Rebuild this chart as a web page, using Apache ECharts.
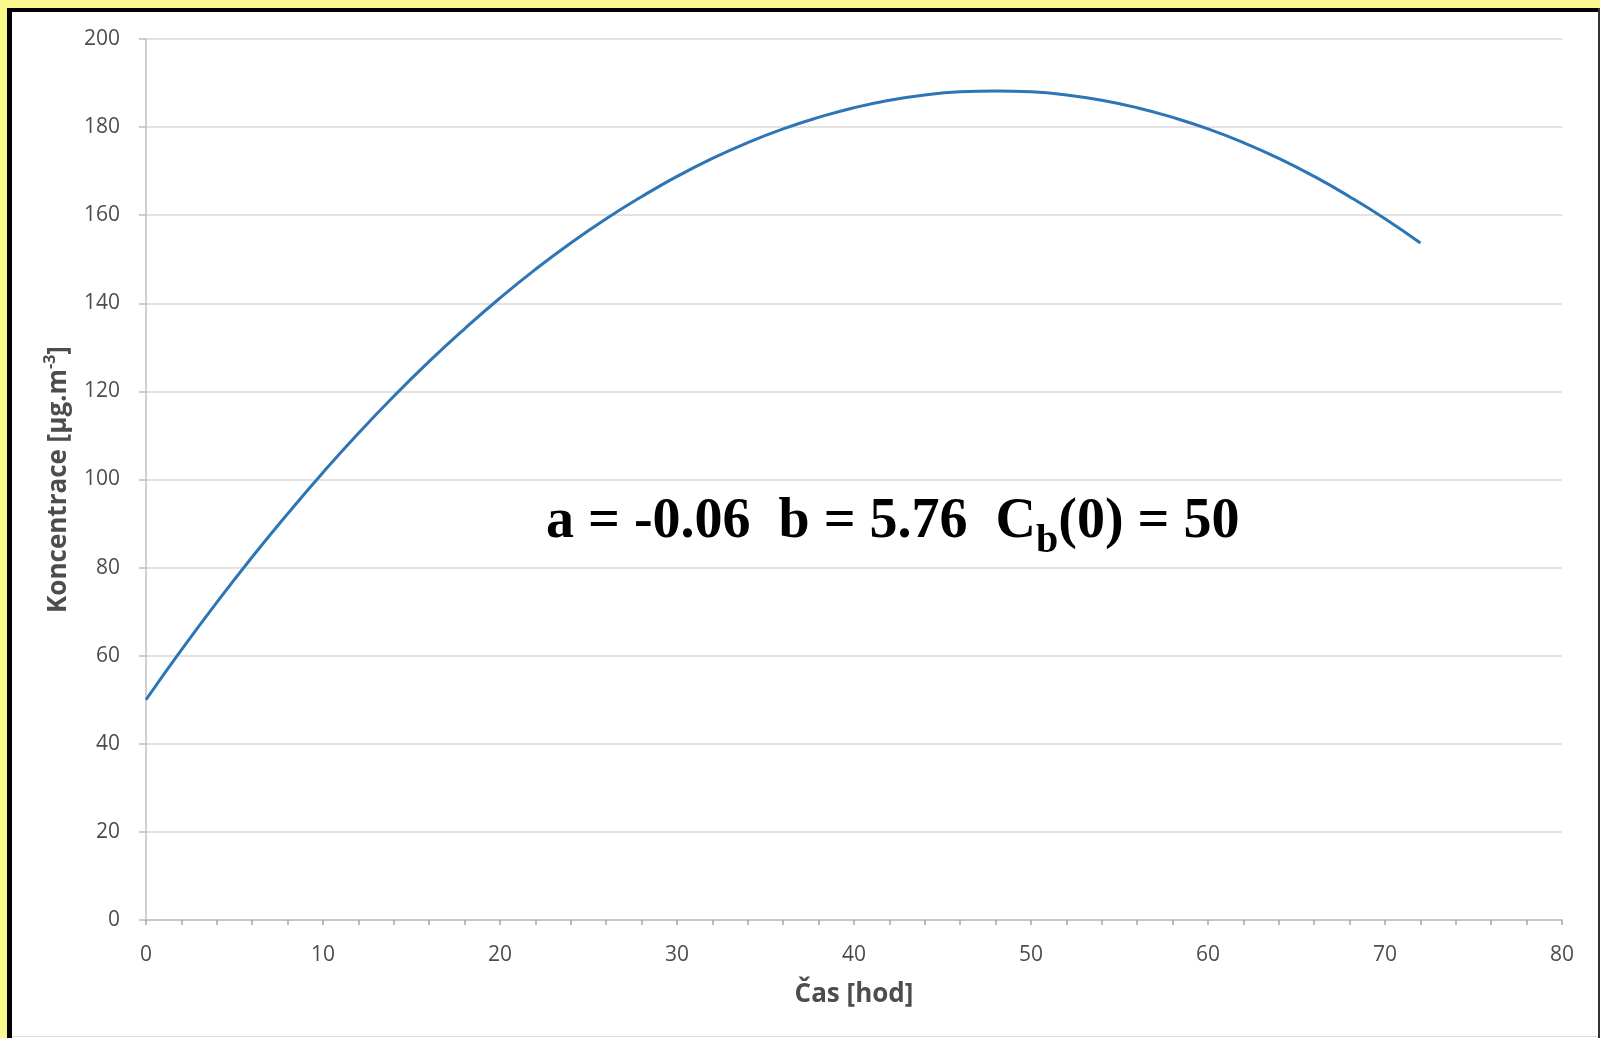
<!DOCTYPE html>
<html>
<head>
<meta charset="utf-8">
<title>Koncentrace v čase</title>
<script src="https://cdn.jsdelivr.net/npm/echarts@6/dist/echarts.min.js"></script>
<style>
  html, body { margin: 0; padding: 0; background: #ffffff; }
  #chart { width: 1600px; height: 1038px; }
</style>
</head>
<body>
<div id="chart"></div>
<script>
// Time axis samples [hod]
const hours = [0, 2, 4, 6, 8, 10, 12, 14, 16, 18, 20, 22, 24, 26, 28, 30, 32, 34, 36,
               38, 40, 42, 44, 46, 48, 50, 52, 54, 56, 58, 60, 62, 64, 66, 68, 70, 72];
// Concentration C_b(t) [µg.m-3]
const concentration = [50.0, 61.3, 72.1, 82.4, 92.2, 101.6, 110.5, 118.9, 126.8, 134.2,
                       141.2, 147.7, 153.7, 159.2, 164.2, 168.8, 172.9, 176.5, 179.6,
                       182.2, 184.4, 186.1, 187.3, 188.0, 188.2, 188.0, 187.3, 186.1,
                       184.4, 182.2, 179.6, 176.5, 172.9, 168.8, 164.2, 159.2, 153.7];
// Axis ticks
const xTicks = [0, 10, 20, 30, 40, 50, 60, 70, 80];
const yTicks = [0, 20, 40, 60, 80, 100, 120, 140, 160, 180, 200];

const xName = 'Čas [hod]';
const yName = '{n|Koncentrace [µg.m}{sup|-3}{n|]}';
const paramText = '{t|a = -0.06  b = 5.76  C}{s|b}{t|(0) = 50}';

const points = hours.map((h, i) => [h, concentration[i]]);

const axisFont = 'Open Sans';
const labelColor = '#4d4d4d';

const chart = echarts.init(document.getElementById('chart'), null, { renderer: 'canvas' });
chart.setOption({
  backgroundColor: '#ffffff',
  animation: false,
  grid: { left: 146, right: 38, top: 39, bottom: 118, containLabel: false },
  xAxis: {
    type: 'value',
    min: xTicks[0],
    max: xTicks[xTicks.length - 1],
    interval: xTicks[1] - xTicks[0],
    name: xName,
    nameLocation: 'middle',
    nameGap: 62,
    nameTextStyle: { fontFamily: axisFont, fontWeight: 'bold', fontSize: 26, color: labelColor },
    axisLine: { show: true, lineStyle: { color: '#BFBFBF', width: 1.5 } },
    axisTick: { show: true, inside: false, length: 5, lineStyle: { color: '#A6A6A6', width: 1.5 } },
    minorTick: { show: true, splitNumber: 5, length: 5, lineStyle: { color: '#A6A6A6', width: 1.5 } },
    axisLabel: { margin: 25, fontFamily: axisFont, fontSize: 21, color: labelColor },
    splitLine: { show: false }
  },
  yAxis: {
    type: 'value',
    min: yTicks[0],
    max: yTicks[yTicks.length - 1],
    interval: yTicks[1] - yTicks[0],
    name: yName,
    nameLocation: 'middle',
    nameGap: 70,
    nameRotate: 90,
    nameTextStyle: {
      rich: {
        n: { fontFamily: axisFont, fontWeight: 'bold', fontSize: 26, color: labelColor },
        sup: { fontFamily: axisFont, fontWeight: 'bold', fontSize: 16, color: labelColor,
               verticalAlign: 'top', lineHeight: 34 }
      }
    },
    axisLine: { show: true, lineStyle: { color: '#BFBFBF', width: 1.5 } },
    axisTick: { show: true, inside: false, length: 7, lineStyle: { color: '#BFBFBF', width: 1.5 } },
    axisLabel: { margin: 26, fontFamily: axisFont, fontSize: 21, color: labelColor },
    splitLine: { show: true, lineStyle: { color: '#D9D9D9', width: 1.5 } }
  },
  series: [{
    type: 'line',
    data: points,
    smooth: true,
    showSymbol: false,
    lineStyle: { color: '#2E75B6', width: 3 },
    itemStyle: { color: '#2E75B6' },
    z: 3
  }],
  graphic: [
    // yellow frame and black border around the chart area
    { type: 'rect', shape: { x: 0, y: 0, width: 1600, height: 8 }, style: { fill: '#FAF78C' }, silent: true },
    { type: 'rect', shape: { x: 0, y: 0, width: 7, height: 1038 }, style: { fill: '#FAF78C' }, silent: true },
    { type: 'rect', shape: { x: 7, y: 8, width: 1593, height: 4 }, style: { fill: '#000000' }, silent: true },
    { type: 'rect', shape: { x: 7, y: 8, width: 5, height: 1030 }, style: { fill: '#000000' }, silent: true },
    { type: 'rect', shape: { x: 1598, y: 8, width: 2, height: 1030 }, style: { fill: '#333333' }, silent: true },
    { type: 'rect', shape: { x: 12, y: 1036, width: 1586, height: 1 }, style: { fill: '#DDDDDD' }, silent: true },
    // model parameters
    {
      type: 'text',
      left: 546,
      top: 484,
      z: 10,
      style: {
        text: paramText,
        rich: {
          t: { fontFamily: 'Liberation Serif', fontWeight: 'bold', fontSize: 56, lineHeight: 56, fill: '#000000' },
          s: { fontFamily: 'Liberation Serif', fontWeight: 'bold', fontSize: 40, lineHeight: 40,
               padding: [38, 0, 0, 0], fill: '#000000' }
        }
      }
    }
  ]
});
</script>
</body>
</html>
